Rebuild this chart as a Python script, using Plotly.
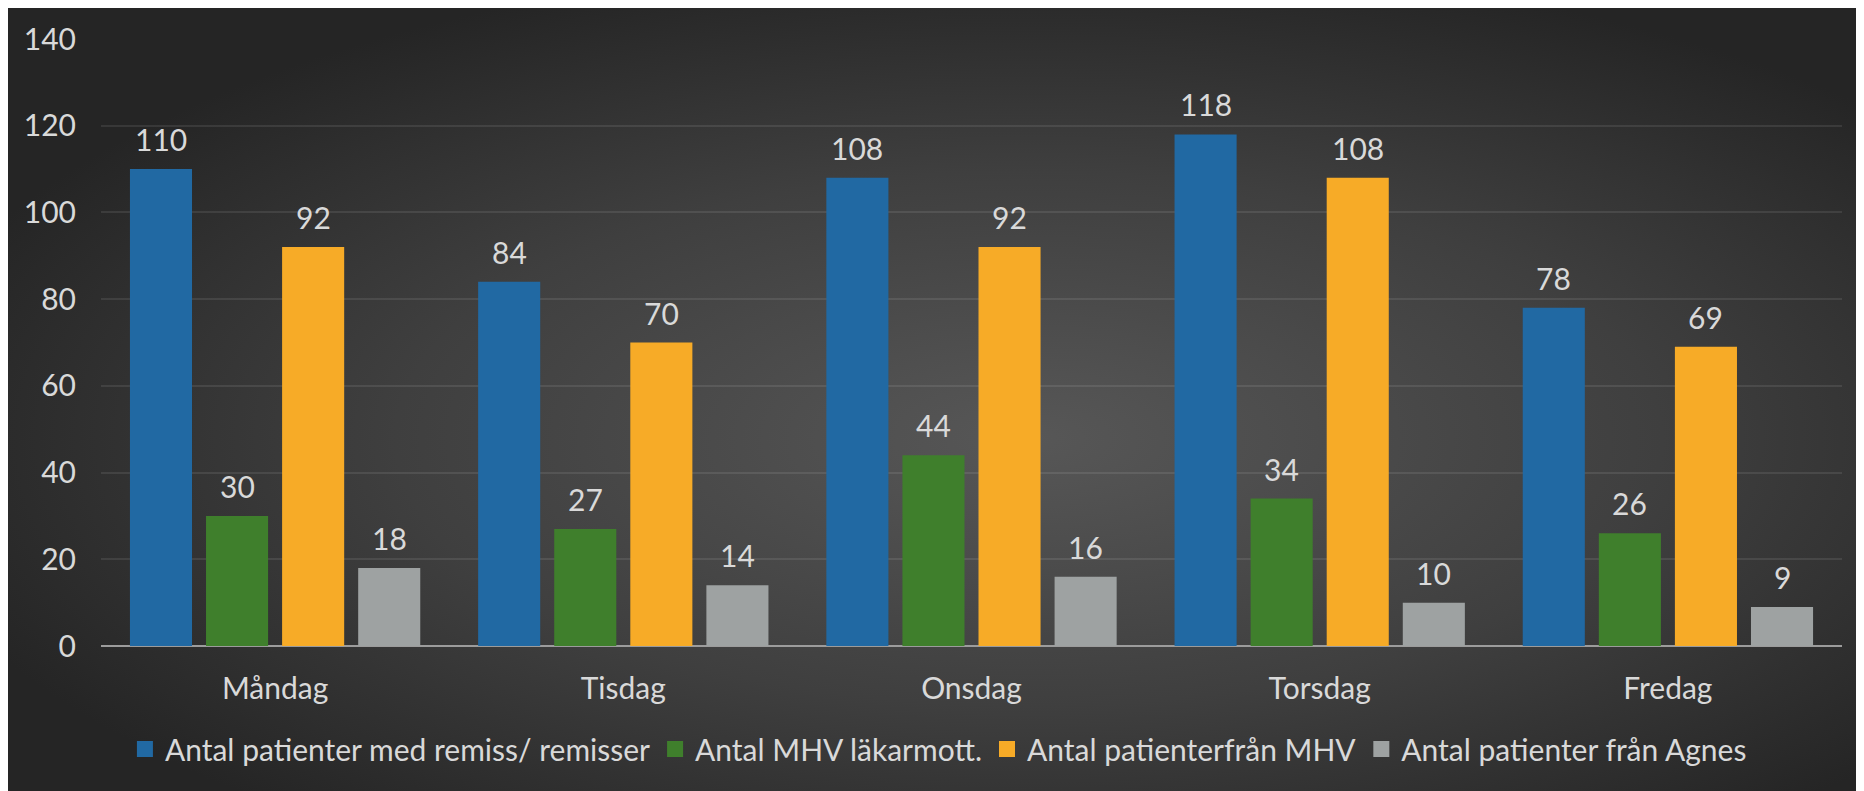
import base64
import plotly.graph_objects as go

# ---- data ----
days = ["Måndag", "Tisdag", "Onsdag", "Torsdag", "Fredag"]
series_names = [
    "Antal patienter med remiss/ remisser",
    "Antal MHV läkarmott.",
    "Antal patienterfrån MHV",
    "Antal patienter från Agnes",
]
remiss = [110, 84, 108, 118, 78]
mhv_lakar = [30, 27, 44, 34, 26]
fran_mhv = [92, 70, 92, 108, 69]
fran_agnes = [18, 14, 16, 10, 9]
y_ticks = [0, 20, 40, 60, 80, 100, 120, 140]

series_values = [remiss, mhv_lakar, fran_mhv, fran_agnes]
colors = ["#2169a3", "#3f7f2c", "#f7ab27", "#9ea2a2"]

FONT = "Lato, 'Open Sans', sans-serif"
FS = 30
TXT = "#d9d9d9"
BARGAP = 0.126
GROUPGAP = 0.184

fig = go.Figure()
for name, vals, col, k in zip(series_names, series_values, colors, range(4)):
    fig.add_trace(go.Bar(
        x=days, y=vals, name=name, marker=dict(color=col, line=dict(width=0)),
        offsetgroup=str(k), hoverinfo="x+y+name", showlegend=False,
        legendgroup=name,
    ))
# legend entries with larger square swatches
for name, col in zip(series_names, colors):
    fig.add_trace(go.Scatter(
        x=[None], y=[None], mode="markers", name=name, legendgroup=name,
        marker=dict(symbol="square", size=17, color=col, line=dict(width=0)),
        showlegend=True,
    ))

# data labels placed above each bar via the axes' data coordinates
slot = (1 - BARGAP) / len(series_values)
for k, vals in enumerate(series_values):
    off = (k - (len(series_values) - 1) / 2) * slot
    for i, v in enumerate(vals):
        fig.add_annotation(
            x=i + off, y=v, xref="x", yref="y", text=str(v), showarrow=False,
            yanchor="bottom", yshift=10,
            font=dict(family=FONT, size=FS, color=TXT),
        )

W, H = 1856, 783
L, R, T, B = 93, 22, 31, 145
pw, ph = W - L - R, H - T - B

# background radial gradient as an inline SVG
svg = (
    f'<svg xmlns="http://www.w3.org/2000/svg" width="{W}" height="{H}" '
    f'viewBox="0 0 {W} {H}" preserveAspectRatio="none">'
    '<defs><radialGradient id="g" cx="0.55" cy="0.55" r="0.62">'
    '<stop offset="0" stop-color="#575757"/>'
    '<stop offset="0.55" stop-color="#3f3f3f"/>'
    '<stop offset="1" stop-color="#252525"/>'
    '</radialGradient></defs>'
    f'<rect x="0" y="0" width="{W}" height="{H}" fill="url(#g)"/></svg>'
)
src = "data:image/svg+xml;base64," + base64.b64encode(svg.encode()).decode()

x0 = -L / pw
x1 = (W - L) / pw
y_top = 1 + T / ph
y_bot = -B / ph

fig.add_layout_image(
    source=src, xref="paper", yref="paper", x=x0, y=y_top,
    sizex=x1 - x0, sizey=y_top - y_bot, xanchor="left", yanchor="top",
    sizing="stretch", layer="below",
)

fig.update_layout(
    width=W, height=H,
    margin=dict(l=L, r=R, t=T, b=B),
    paper_bgcolor="white",
    plot_bgcolor="rgba(0,0,0,0)",
    barmode="group", bargap=BARGAP, bargroupgap=GROUPGAP,
    font=dict(family=FONT, size=FS, color=TXT),
    showlegend=True,
    legend=dict(
        orientation="h", x=0.481, xanchor="center", y=-(741 - 638) / ph, yanchor="middle",
        font=dict(family=FONT, size=FS, color=TXT), bgcolor="rgba(0,0,0,0)",
        itemsizing="trace", traceorder="normal", itemwidth=30,
    ),
    xaxis=dict(
        showgrid=False, showline=False, ticks="", ticklabelstandoff=22,
        tickfont=dict(family=FONT, size=FS, color=TXT),
    ),
    yaxis=dict(
        range=[0, 140], tickvals=y_ticks, showgrid=True,
        gridcolor="rgba(255,255,255,0.09)", gridwidth=2,
        zeroline=True, zerolinecolor="#9c9c9c", zerolinewidth=2,
        showline=False, ticks="", ticklabelstandoff=24,
        tickfont=dict(family=FONT, size=FS, color=TXT),
    ),
)

fig.write_html("out.html")
